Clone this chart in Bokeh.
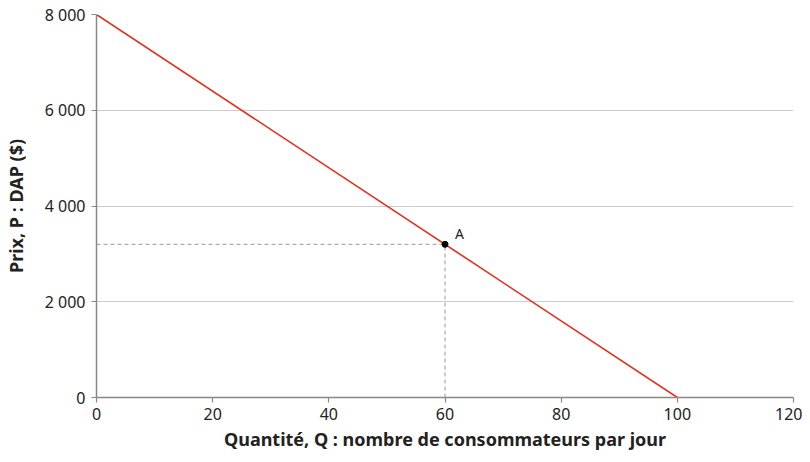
from bokeh.plotting import figure
from bokeh.models import FixedTicker, Range1d, Label
from bokeh.embed import file_html
from bokeh.resources import INLINE

# Data
demand_q = [0, 100]
demand_p = [8000, 0]
point_q = [60]
point_p = [3200]
point_label = "A"
x_ticks = [0, 20, 40, 60, 80, 100, 120]
y_ticks = [0, 2000, 4000, 6000, 8000]
y_tick_labels = ["0", "2 000", "4 000", "6 000", "8 000"]
x_title = "Quantité, Q : nombre de consommateurs par jour"
y_title = "Prix, P : DAP ($)"

FONT = "Noto Sans"

p = figure(width=802, height=454, output_backend="svg", toolbar_location=None,
           x_range=Range1d(0, 120), y_range=Range1d(0, 8000),
           min_border_left=95, min_border_right=9, min_border_top=14, min_border_bottom=57)
p.outline_line_color = None
p.background_fill_color = "white"

p.xgrid.grid_line_color = None
p.ygrid.grid_line_color = "#cccccc"
p.ygrid.grid_line_width = 1

p.xaxis.ticker = FixedTicker(ticks=x_ticks)
p.yaxis.ticker = FixedTicker(ticks=y_ticks)
p.yaxis.major_label_overrides = {t: l for t, l in zip(y_ticks, y_tick_labels)}

for ax in (p.xaxis[0], p.yaxis[0]):
    ax.axis_line_color = "#888888"
    ax.axis_line_width = 1.5
    ax.major_tick_line_color = "#888888"
    ax.major_tick_line_width = 1.2
    ax.major_tick_out = 5
    ax.major_tick_in = 0
    ax.minor_tick_line_color = None
    ax.major_label_text_font = FONT
    ax.major_label_text_font_size = "16px"
    ax.major_label_text_color = "#222222"
    ax.axis_label_text_font = FONT
    ax.axis_label_text_font_size = "18px"
    ax.axis_label_text_font_style = "bold"
    ax.axis_label_text_color = "#222222"

p.xaxis.axis_label = x_title
p.yaxis.axis_label = y_title
p.xaxis.major_label_standoff = 5
p.xaxis.axis_label_standoff = 4
p.yaxis.major_label_standoff = 6
p.yaxis.axis_label_standoff = 14

# dashed guide lines
p.line([0, point_q[0]], [point_p[0], point_p[0]], line_color="#999999", line_dash="4 3", line_width=1)
p.line([point_q[0], point_q[0]], [0, point_p[0]], line_color="#999999", line_dash="4 3", line_width=1)

# demand line
p.line(demand_q, demand_p, line_color="#e0301e", line_width=1.6)

# point A
p.scatter(point_q, point_p, size=6, color="black")
p.add_layout(Label(x=point_q[0], y=point_p[0], text=point_label, x_offset=10, y_offset=1,
                   text_font=FONT, text_font_size="14px", text_color="#222222"))

open("out.html", "w").write(file_html(p, INLINE))
